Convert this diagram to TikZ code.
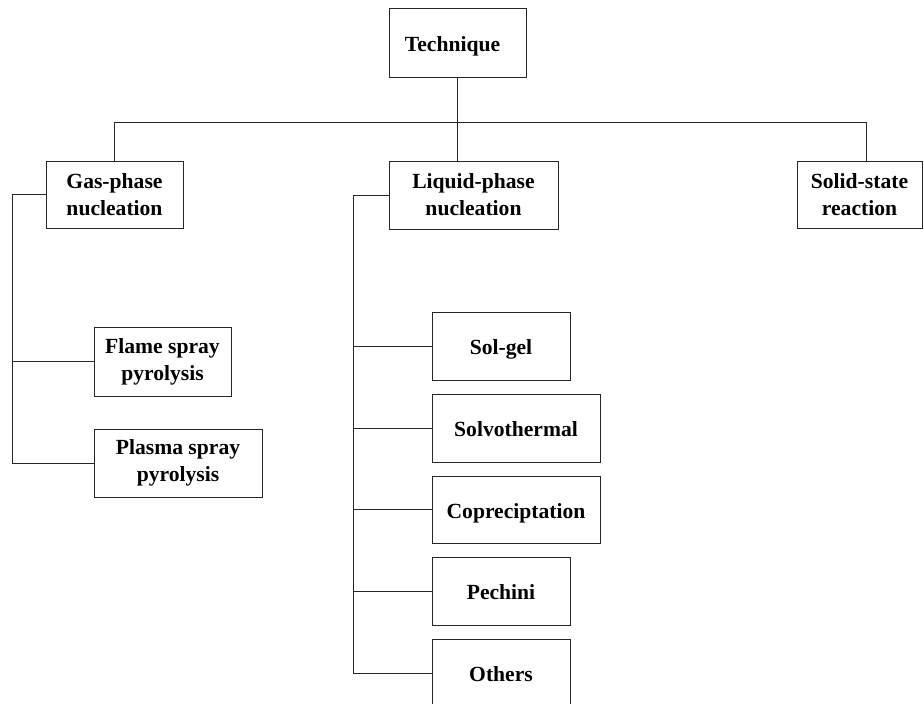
\documentclass[tikz,border=0pt]{standalone}
\usepackage{fontspec}
\setmainfont{Liberation Serif}
\usepackage{tikz}
\usetikzlibrary{calc}
\def\boxfont{\fontsize{21.6}{27}\selectfont\bfseries}

\begin{document}
\begin{tikzpicture}[x=1pt, y=-1pt, line width=1pt,
		link/.style={draw=black!85},
		tbox/.style={draw=black!85, rectangle, align=center, inner sep=0pt, font=\boxfont, text=black},
		oneline/.style={text height=17pt, text depth=0pt},
	]
			%%%%% START %%%%%
			
			\useasboundingbox (0, 0) rectangle (924, 704);
			\clip (0, 0) rectangle (924, 704);
			
			\node[tbox, oneline, minimum width=137, minimum height=69] (tech) at (457.5, 42.5) {Technique\hspace*{10pt}};
			
			\node[tbox, minimum width=137, minimum height=67] (gas) at (114.5, 194.5) {Gas-phase\\nucleation};
			\node[tbox, minimum width=169, minimum height=68] (liquid) at (473.5, 195) {Liquid-phase\\nucleation};
			\node[tbox, minimum width=125, minimum height=67] (solid) at (859.5, 194.5) {Solid-state\\reaction};
			
			\node[tbox, minimum width=137, minimum height=69] (flame) at (162.5, 361.5) {Flame spray\\pyrolysis};
			\node[tbox, minimum width=168, minimum height=68] (plasma) at (178, 463) {Plasma spray\\pyrolysis};
			
			\node[tbox, oneline, minimum width=138, minimum height=68] (solgel) at (501, 346) {Sol-gel};
			\node[tbox, oneline, minimum width=168, minimum height=68] (solvo) at (516, 428) {Solvothermal};
			\node[tbox, oneline, minimum width=168, minimum height=67] (copre) at (516, 509.5) {Copreciptation};
			\node[tbox, oneline, minimum width=138, minimum height=68] (pechini) at (501, 591) {Pechini};
			\node[tbox, oneline, minimum width=138, minimum height=68] (others) at (501, 673) {Others};
			
			\coordinate (bar) at (0, 122);
			\coordinate (gastrunk) at (12, 0);
			\coordinate (liqtrunk) at (353, 0);
			\coordinate (solidtop) at ($(solid.north)+(6.5, 0)$);
			
			\draw[link] (tech.south) -- (tech.south |- liquid.north);
			\draw[link] (gas.north) |- (solidtop |- bar) -- (solidtop);
			
			\draw[link] (gas.west) -| (gastrunk |- plasma.west) -- (plasma.west);
			\draw[link] (gastrunk |- flame.west) -- (flame.west);
			
			\draw[link] (liquid.west) -| (liqtrunk |- others.west) -- (others.west);
			\foreach \n in {solgel, solvo, copre, pechini}
				\draw[link] (liqtrunk |- \n.west) -- (\n.west);
			
			%%%%% END %%%%%
		\end{tikzpicture}
\end{document}
